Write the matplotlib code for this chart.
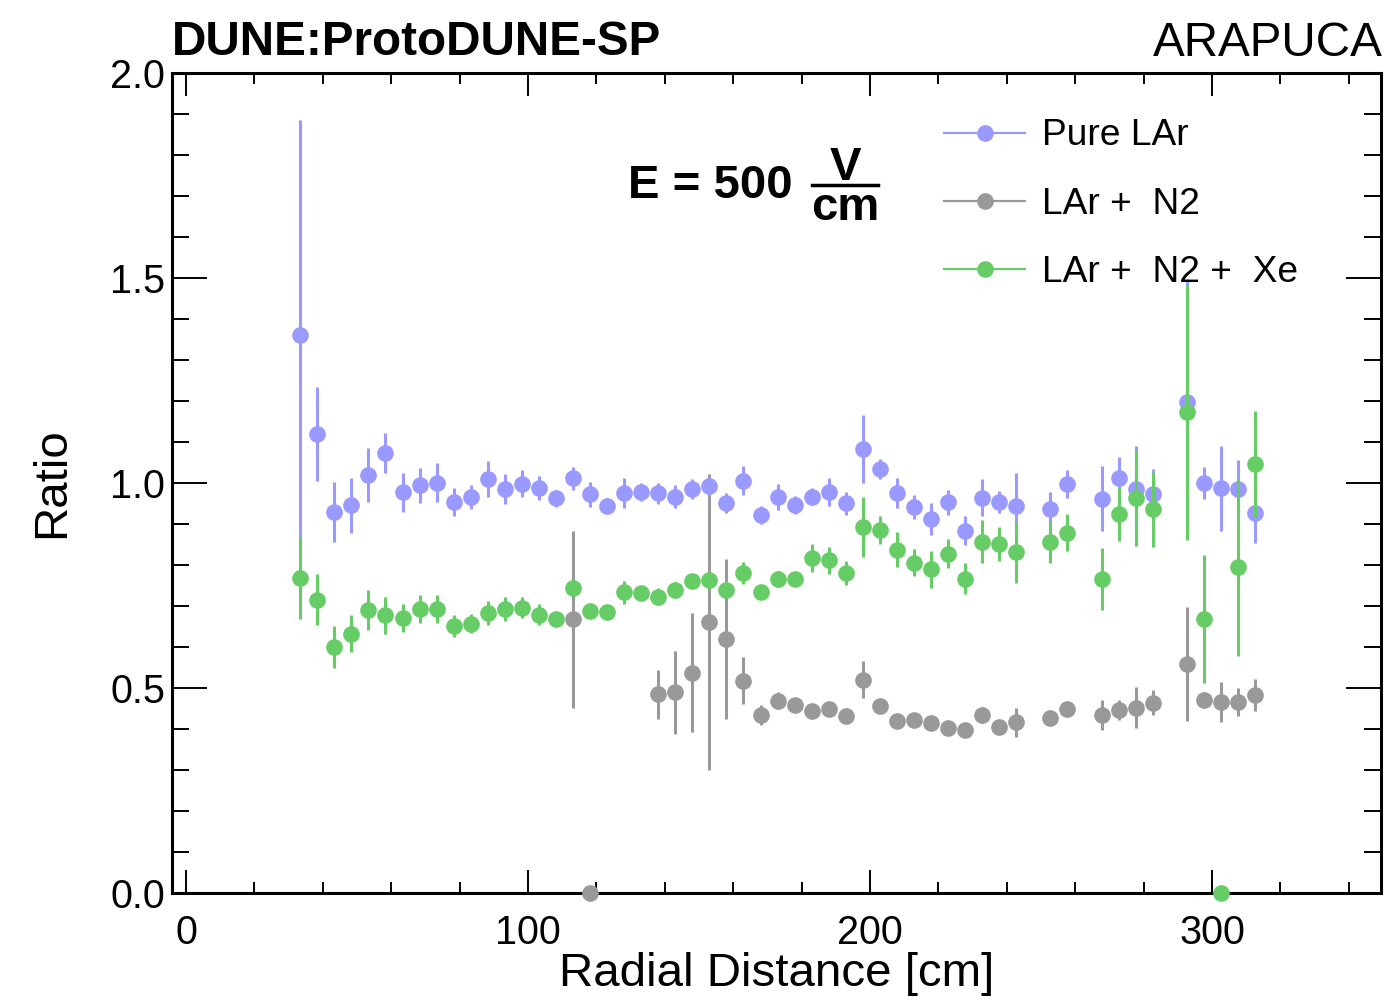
import numpy as np
import matplotlib
matplotlib.use('Agg')
import matplotlib.pyplot as plt
from matplotlib.lines import Line2D

plt.rcParams['font.family'] = ['Liberation Sans', 'DejaVu Sans']

# Radial distance bins (cm)
radius = 33.4 + 4.985 * np.arange(57)

nan = np.nan
# Pure LAr
lar = [1.361, 1.120, 0.929, 0.946, 1.020, 1.073, 0.977, 0.994, 1.001, 0.954,
       0.966, 1.010, 0.985, 0.998, 0.987, 0.963, 1.012, 0.972, 0.944, 0.976,
       0.979, 0.975, 0.967, 0.985, 0.993, 0.951, 1.006, 0.922, 0.966, 0.946,
       0.967, 0.978, 0.950, 1.083, 1.034, 0.975, 0.941, 0.912, 0.953, 0.884,
       0.964, 0.953, 0.944, nan, 0.936, 0.997, nan, 0.962, 1.013, 0.985,
       0.973, nan, 1.197, 1.000, 0.987, 0.985, 0.926]
lar_err = [0.525, 0.115, 0.074, 0.067, 0.066, 0.049, 0.048, 0.042, 0.047, 0.034,
           0.030, 0.043, 0.037, 0.033, 0.029, 0.021, 0.028, 0.031, 0.020, 0.037,
           0.022, 0.026, 0.029, 0.024, 0.022, 0.024, 0.035, 0.023, 0.031, 0.022,
           0.020, 0.034, 0.029, 0.084, 0.024, 0.037, 0.030, 0.038, 0.030, 0.035,
           0.045, 0.027, 0.080, nan, 0.041, 0.034, nan, 0.080, 0.051, 0.105,
           0.060, nan, 0.300, 0.040, 0.103, 0.071, 0.073]

# LAr + N2
n2 = [nan] * 16 + [0.668, 0.0, nan, nan, nan,
      0.485, 0.489, 0.537, 0.662, 0.619, 0.518, 0.434, 0.469, 0.459,
      0.444, 0.449, 0.432, 0.520, 0.456, 0.420, 0.423, 0.414, 0.403, 0.398,
      0.434, 0.404, 0.416, nan, 0.428, 0.449, nan, 0.434, 0.446, 0.452,
      0.464, nan, 0.559, 0.471, 0.466, 0.466, 0.483]
n2_err = [nan] * 16 + [0.216, 0.0, nan, nan, nan,
          0.060, 0.102, 0.145, 0.361, 0.195, 0.057, 0.024, 0.020, 0.015,
          0.012, 0.012, 0.015, 0.045, 0.012, 0.012, 0.012, 0.012, 0.010, 0.010,
          0.020, 0.010, 0.036, nan, 0.012, 0.010, nan, 0.037, 0.025, 0.050,
          0.030, nan, 0.139, 0.020, 0.049, 0.034, 0.040]

# LAr + N2 + Xe
xe = [0.769, 0.715, 0.599, 0.632, 0.690, 0.677, 0.671, 0.693, 0.693, 0.652,
      0.657, 0.683, 0.693, 0.696, 0.679, 0.668, 0.744, 0.688, 0.686, 0.733,
      0.731, 0.723, 0.739, 0.762, 0.763, 0.740, 0.781, 0.733, 0.766, 0.765,
      0.816, 0.812, 0.780, 0.893, 0.885, 0.837, 0.806, 0.789, 0.828, 0.767,
      0.857, 0.851, 0.831, nan, 0.857, 0.879, nan, 0.766, 0.924, 0.963,
      0.936, nan, 1.172, 0.668, 0.0, 0.794, 1.046]
xe_err = [0.100, 0.062, 0.051, 0.045, 0.048, 0.046, 0.035, 0.035, 0.035, 0.027,
          0.024, 0.029, 0.029, 0.025, 0.026, 0.010, 0.020, 0.010, 0.010, 0.028,
          0.015, 0.020, 0.020, 0.015, 0.015, 0.020, 0.027, 0.010, 0.020, 0.015,
          0.034, 0.033, 0.029, 0.074, 0.034, 0.043, 0.033, 0.045, 0.035, 0.037,
          0.053, 0.041, 0.074, nan, 0.051, 0.045, nan, 0.075, 0.065, 0.117,
          0.091, nan, 0.311, 0.157, 0.0, 0.217, 0.130]

series = [
    ('Pure LAr', lar, lar_err, '#9999ff', 4),
    ('LAr +  N2', n2, n2_err, '#999999', 3),
    ('LAr +  N2 +  Xe', xe, xe_err, '#66cc66', 5),
]

fig = plt.figure(figsize=(13.89, 10.01), dpi=100)
ax = fig.add_axes([0.1238, 0.1079, 0.8704, 0.8192])

handles = []
for label, y, yerr, color, z in series:
    eb = ax.errorbar(radius, y, yerr=yerr, fmt='o', color=color, ms=12,
                     mew=0, elinewidth=2.2, capsize=0, zorder=z)
    for art in [eb[0]] + list(eb[2]):
        art.set_clip_on(False)
    handles.append(Line2D([], [], color=color, lw=1.6, marker='o', ms=12,
                          mew=0, label=label))

ax.set_xlim(-4.1, 349.4)
ax.set_ylim(0, 2.0)
ax.set_xticks([0, 100, 200, 300])
ax.set_xticks(np.arange(0, 350, 20), minor=True)
ax.set_yticks([0, 0.5, 1.0, 1.5, 2.0])
ax.set_yticks(np.arange(0, 2.01, 0.1), minor=True)
ax.set_yticklabels(['0.0', '0.5', '1.0', '1.5', '2.0'])

for s in ax.spines.values():
    s.set_linewidth(2.2)
ax.tick_params(which='both', direction='in', top=True, right=True, width=1.4,
               labelsize=28.5)
ax.tick_params(axis='x', which='major', length=16.5, pad=15)
ax.tick_params(axis='x', which='minor', length=8)
ax.tick_params(axis='y', which='major', length=25, pad=5)
ax.tick_params(axis='y', which='minor', length=12.5)

W, H = 1389, 1001
ax.set_xlabel('Radial Distance [cm]', fontsize=34.2)
ax.xaxis.set_label_coords(0.5, -0.072)
ax.xaxis.label.set_va('top')
fig.text(52 / W, 1 - 483 / H, 'Ratio', fontsize=34.2, rotation=90,
         ha='center', va='center')

leg = ax.legend(handles=handles, loc='upper left',
                bbox_to_anchor=(0.639, 0.9445), frameon=False, fontsize=26.7,
                handlelength=2.16, handletextpad=0.46, labelspacing=0.9,
                borderpad=0, borderaxespad=0)
leg.set_zorder(10)

# Headers
fig.text(172 / W, 1 - 55 / H, 'DUNE:ProtoDUNE-SP', fontsize=34.3,
         fontweight='bold', ha='left', va='baseline')
fig.text(1383 / W, 1 - 56 / H, 'ARAPUCA', fontsize=34.3, ha='right',
         va='baseline')

# Field label with fraction
fig.text(628 / W, 1 - 198 / H, 'E = 500', fontsize=34, fontweight='bold',
         ha='left', va='baseline')
fig.text(845 / W, 1 - 180 / H, 'V', fontsize=34, fontweight='bold',
         ha='center', va='baseline')
fig.text(845 / W, 1 - 220 / H, 'cm', fontsize=34, fontweight='bold',
         ha='center', va='baseline')
fig.add_artist(Line2D([812 / W, 878 / W], [1 - 185 / H, 1 - 185 / H],
                      color='black', lw=2.5, transform=fig.transFigure))

plt.savefig('out.png', dpi=100)
plt.close()
